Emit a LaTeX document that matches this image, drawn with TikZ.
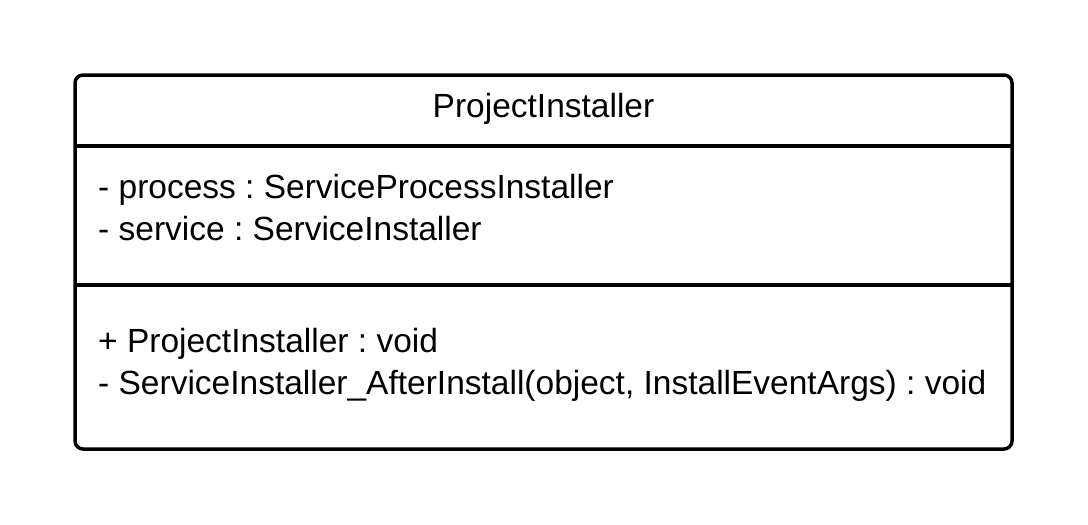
\documentclass[tikz,border=0pt]{standalone}
\usepackage{fontspec}
\setmainfont{Liberation Sans}
\usepackage{tikz}
\usepackage{xcolor}
\usetikzlibrary{positioning, calc}
\definecolor{cLine}{HTML}{000000}
\definecolor{cText}{HTML}{000000}
\frenchspacing

\tikzset{
  umlbox/.style={draw=cLine, line width=3.5pt, rounded corners=8pt},
  umlrule/.style={draw=cLine, line width=3.5pt},
  umltext/.style={font=\fontsize{33.5}{40}\selectfont, text=cText, inner sep=0pt, anchor=base west},
}

\begin{document}
\begin{tikzpicture}[x=1pt, y=-1pt]
        \useasboundingbox (0,0) rectangle (1088,525);
        % class frame with its two compartment rules
        \draw[umlbox] (75,75) rectangle (1012,449);
        \draw[umlrule] (75,146) -- (1012,146);
        \draw[umlrule] (75,285) -- (1012,285);
        % class name
        \node[umltext, anchor=base] (className) at (543.5,117) {ProjectInstaller};
        % attributes
        \node[umltext] (attrProcess) at (98,198) {- process : ServiceProcessInstaller};
        \node[umltext] (attrService) at (98,240) {- service : ServiceInstaller};
        % operations
        \node[umltext] (opCtor) at (98,352) {+ ProjectInstaller : void};
        \node[umltext] (opAfter) at (98,394)
              {- ServiceInstaller\_AfterInstall(object, InstallEventArgs) : void};
\end{tikzpicture}
\end{document}
